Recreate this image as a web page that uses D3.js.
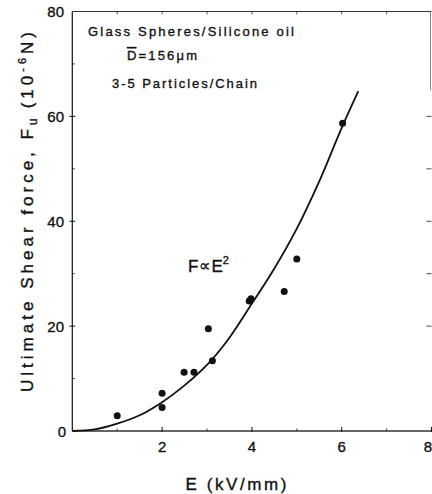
<!DOCTYPE html>
<html>
<head>
<meta charset="utf-8">
<script src="https://cdn.jsdelivr.net/npm/d3@7"></script>
<style>
  html, body { margin: 0; padding: 0; background: #fff; }
  svg { display: block; font-family: "Liberation Sans", Arial, Helvetica, sans-serif; }
  svg text { stroke: #111; stroke-width: 0.35px; }
</style>
</head>
<body>
<svg id="chart" width="432" height="494"></svg>
<script>
// Measured shear force of chains vs. applied field
const fieldE = [1.0, 2.0, 2.0, 2.49, 2.71, 3.03, 3.12, 3.94, 3.98, 4.72, 5.0, 6.02];
const forceF = [2.9, 7.2, 4.5, 11.2, 11.2, 19.5, 13.4, 24.8, 25.2, 26.6, 32.8, 58.7];

// Fitted F ∝ E² curve
const fitE = [0, 0.5, 1.0, 1.5, 2.0, 2.5, 3.0, 3.5, 4.0, 4.5, 5.0, 5.5, 6.0, 6.37];
const fitF = [0, 0.3, 1.4, 3.0, 5.5, 8.7, 12.6, 17.8, 24.3, 31.0, 38.6, 47.6, 57.8, 64.8];

// Axis ticks
const xMajorTicks = [2, 4, 6, 8];
const xMinorTicks = [1, 3, 5, 7];
const yMajorTicks = [0, 20, 40, 60, 80];
const yMinorTicks = [10, 30, 50, 70];
const rightTicks = [20, 30, 40, 50, 60];

const svg = d3.select("#chart");
const x = d3.scaleLinear().domain([0, 8]).range([72.3, 431.5]);
const y = d3.scaleLinear().domain([0, 80]).range([431, 11.5]);

const ink = "#111";

// Frame: left, bottom, top, and the part of the right border that survives
const frame = svg.append("g").attr("stroke", ink).attr("fill", "none");
frame.append("line").attr("x1", x(0)).attr("x2", x(0)).attr("y1", y(0)).attr("y2", y(80)).attr("stroke-width", 1.2);
frame.append("line").attr("x1", x(0)).attr("x2", x(8)).attr("y1", y(0)).attr("y2", y(0)).attr("stroke-width", 1.4).attr("stroke", "#333");
frame.append("line").attr("x1", x(0)).attr("x2", x(8)).attr("y1", y(80)).attr("y2", y(80)).attr("stroke-width", 1.1).attr("stroke", "#333");
frame.append("line").attr("x1", x(8) - 1).attr("x2", x(8) - 1).attr("y1", y(80)).attr("y2", y(65)).attr("stroke-width", 0.8).attr("stroke", "#666");

// Bottom axis ticks (inward) and labels
const bottom = svg.append("g").attr("stroke", ink);
bottom.selectAll("line.major").data(xMajorTicks).join("line")
  .attr("x1", d => x(d)).attr("x2", d => x(d)).attr("y1", y(0) + 1).attr("y2", y(0) - 4).attr("stroke-width", 1);
bottom.selectAll("line.minor").data(xMinorTicks).join("line")
  .attr("x1", d => x(d)).attr("x2", d => x(d)).attr("y1", y(0)).attr("y2", y(0) - 2.5).attr("stroke-width", 0.8);
svg.append("g").selectAll("text").data(xMajorTicks).join("text")
  .attr("x", d => d === 8 ? 432 : x(d)).attr("y", 451.5)
  .attr("text-anchor", d => d === 8 ? "end" : "middle")
  .attr("font-size", 15).attr("fill", ink).text(d => d);

// Top axis ticks
svg.append("g").attr("stroke", "#333").selectAll("line").data(xMajorTicks.concat(xMinorTicks).filter(d => d < 8)).join("line")
  .attr("x1", d => x(d)).attr("x2", d => x(d)).attr("y1", y(80)).attr("y2", y(80) + 3).attr("stroke-width", 0.8);

// Left axis ticks and labels
const left = svg.append("g").attr("stroke", ink);
left.selectAll("line.major").data(yMajorTicks.filter(d => d > 0 && d < 80)).join("line")
  .attr("x1", x(0) - 3).attr("x2", x(0) + 3).attr("y1", d => y(d)).attr("y2", d => y(d)).attr("stroke-width", 1);
left.selectAll("line.minor").data(yMinorTicks).join("line")
  .attr("x1", x(0)).attr("x2", x(0) + 2.5).attr("y1", d => y(d)).attr("y2", d => y(d)).attr("stroke-width", 0.8);
svg.append("g").selectAll("text").data(yMajorTicks).join("text")
  .attr("x", d => d === 0 ? 66 : 64).attr("y", d => y(d) + 5.5).attr("text-anchor", "end")
  .attr("font-size", 15).attr("fill", ink).text(d => d);

// Right axis ticks (inward)
svg.append("g").attr("stroke", "#333").selectAll("line").data(rightTicks).join("line")
  .attr("x1", x(8) - 5).attr("x2", x(8)).attr("y1", d => y(d)).attr("y2", d => y(d)).attr("stroke-width", 0.9);

// Fitted curve
const fitPts = fitE.map((e, i) => [e, fitF[i]]);
svg.append("path").datum(fitPts)
  .attr("fill", "none").attr("stroke", ink).attr("stroke-width", 1.8)
  .attr("d", d3.line().x(d => x(d[0])).y(d => y(d[1])).curve(d3.curveCatmullRom.alpha(0.5)));

// Data points
const pts = fieldE.map((e, i) => [e, forceF[i]]);
svg.append("g").selectAll("circle").data(pts).join("circle")
  .attr("cx", d => x(d[0])).attr("cy", d => y(d[1])).attr("r", 3.5).attr("fill", ink);

// Annotation block
const note = svg.append("g").attr("fill", ink).attr("font-size", 13);
note.append("text").attr("x", 88).attr("y", 36)
  .attr("textLength", 206).attr("lengthAdjust", "spacing")
  .text("Glass Spheres/Silicone oil");
const dLine = note.append("text").attr("x", 127).attr("y", 60)
  .attr("textLength", 70).attr("lengthAdjust", "spacing");
dLine.append("tspan").attr("text-decoration", "overline").text("D");
dLine.append("tspan").text("=156μm");
note.append("text").attr("x", 112).attr("y", 88)
  .attr("textLength", 145).attr("lengthAdjust", "spacing")
  .text("3-5 Particles/Chain");

// Proportionality label
const prop = svg.append("text").attr("x", 188).attr("y", 272).attr("font-size", 17).attr("fill", ink);
prop.append("tspan").text("F");
prop.append("tspan").attr("font-size", 16).attr("dx", 1).attr("dy", -1).text("∝");
prop.append("tspan").attr("dx", 1).attr("dy", 1).text("E");
prop.append("tspan").attr("font-size", 11).attr("dy", -8).text("2");

// Axis titles
svg.append("text").attr("x", 236).attr("y", 490).attr("text-anchor", "middle")
  .attr("font-size", 17).attr("fill", ink)
  .attr("textLength", 101).attr("lengthAdjust", "spacing")
  .text("E (kV/mm)");

const yt = svg.append("text")
  .attr("transform", "translate(33,212) rotate(-90)")
  .attr("text-anchor", "middle").attr("font-size", 17).attr("fill", ink)
  .attr("textLength", 360).attr("lengthAdjust", "spacing");
yt.append("tspan").text("Ultimate Shear force, F");
yt.append("tspan").attr("font-size", 12).attr("dy", 4).text("u");
yt.append("tspan").attr("dy", -4).attr("dx", 6).text("(10");
yt.append("tspan").attr("font-size", 11).attr("dy", -7).text("-6");
yt.append("tspan").attr("dy", 7).text("N)");
</script>
</body>
</html>
